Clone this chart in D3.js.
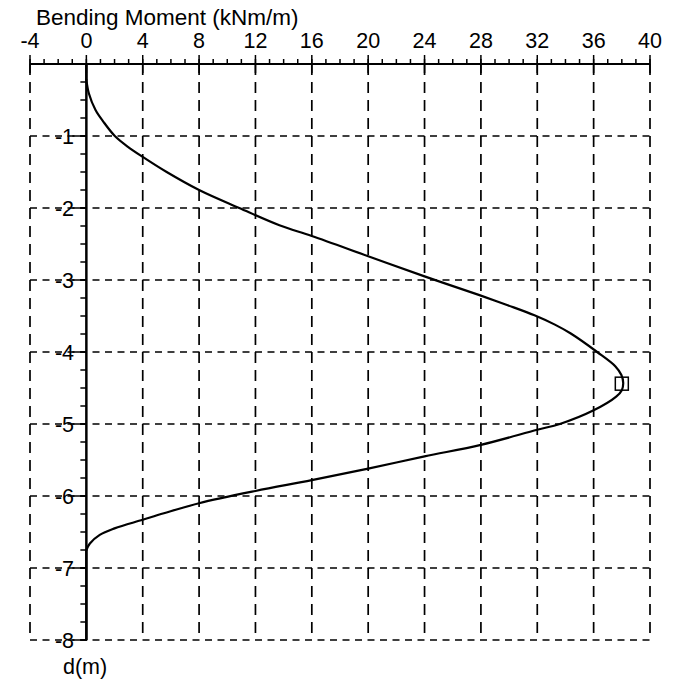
<!DOCTYPE html>
<html>
<head>
<meta charset="utf-8">
<script src="https://cdn.jsdelivr.net/npm/d3@7"></script>
<style>
  html, body { margin: 0; padding: 0; background: #fff; }
  svg { display: block; font-family: "Liberation Sans", Arial, sans-serif; }
</style>
</head>
<body>
<svg id="chart" width="685" height="681"></svg>
<script>
// Bending moment profile along the wall (depth d in m, moment in kNm/m)
const depth  = [0, -0.22, -0.41, -0.64, -0.8, -1.0, -1.15, -1.29, -1.5, -1.75, -2.0, -2.24, -2.39, -2.67,
                -2.95, -3.21, -3.35, -3.49, -3.62, -3.74, -4.0, -4.2, -4.32, -4.43, -4.53, -4.62, -4.81,
                -5.0, -5.08, -5.29, -5.45, -5.62, -5.78, -5.93, -6.1, -6.24, -6.33, -6.45, -6.54, -6.66,
                -6.75, -8.0];
const moment = [0, 0, 0.18, 0.65, 1.2, 2.02, 2.95, 4, 5.7, 8, 10.85, 13.7, 16, 20,
                24, 27.9, 29.9, 31.8, 33.25, 34.35, 36.25, 37.55, 37.97, 38.1, 38.0, 37.6, 36.0,
                33.6, 32, 28, 24, 20, 16, 12, 8, 5.5, 4, 2.0, 0.95, 0.25,
                0, 0];
// Maximum moment marker
const maxPoint = [{ m: 38.0, d: -4.44 }];

const xTicks = [-4, 0, 4, 8, 12, 16, 20, 24, 28, 32, 36, 40];
const xMinor = d3.range(-4, 40.5, 1);
const yTicks = [-1, -2, -3, -4, -5, -6, -7, -8];
const yMinor = d3.range(0, -8.01, -0.25);
const xTitle = "Bending Moment (kNm/m)";
const yTitle = "d(m)";

const svg = d3.select("#chart");
const x = d3.scaleLinear().domain([-4, 40]).range([30, 650]);
const y = d3.scaleLinear().domain([0, -8]).range([64, 640]);

// Dashed grid
const grid = svg.append("g").attr("stroke", "#000").attr("stroke-width", 1.7).attr("fill", "none");
grid.selectAll("line.v").data(xTicks.filter(v => v !== 0)).join("line")
  .attr("class", "v")
  .attr("x1", d => x(d)).attr("x2", d => x(d))
  .attr("y1", y(0)).attr("y2", y(-8))
  .attr("stroke-dasharray", "11,7");
grid.selectAll("line.h").data(yTicks).join("line")
  .attr("class", "h")
  .attr("x1", x(-4)).attr("x2", x(40))
  .attr("y1", d => y(d)).attr("y2", d => y(d))
  .attr("stroke-dasharray", "7,5.5");

// Top moment axis
const momentAxis = svg.append("g").attr("stroke", "#000");
momentAxis.append("line").attr("x1", x(-4)).attr("x2", x(40)).attr("y1", y(0)).attr("y2", y(0)).attr("stroke-width", 2);
momentAxis.selectAll("line.minor").data(xMinor).join("line")
  .attr("class", "minor")
  .attr("x1", d => x(d)).attr("x2", d => x(d))
  .attr("y1", y(0) - 5).attr("y2", y(0)).attr("stroke-width", 1.5);
momentAxis.selectAll("line.major").data(xTicks).join("line")
  .attr("class", "major")
  .attr("x1", d => x(d)).attr("x2", d => x(d))
  .attr("y1", y(0) - 9).attr("y2", y(0) + 9).attr("stroke-width", 1.5);
svg.append("g").selectAll("text").data(xTicks).join("text")
  .attr("x", d => x(d)).attr("y", 48)
  .attr("text-anchor", "middle")
  .attr("font-size", 21.5)
  .text(d => d);
svg.append("text").attr("x", 36).attr("y", 25).attr("font-size", 22.5).text(xTitle);

// Depth axis at zero moment
const depthAxis = svg.append("g").attr("stroke", "#000");
depthAxis.append("line").attr("x1", x(0)).attr("x2", x(0)).attr("y1", y(0)).attr("y2", y(-8)).attr("stroke-width", 2.5);
depthAxis.selectAll("line.minor").data(yMinor).join("line")
  .attr("class", "minor")
  .attr("x1", x(0) - 6).attr("x2", x(0))
  .attr("y1", d => y(d)).attr("y2", d => y(d)).attr("stroke-width", 1.5);
depthAxis.selectAll("line.major").data(yTicks).join("line")
  .attr("class", "major")
  .attr("x1", x(0) - 14).attr("x2", x(0))
  .attr("y1", d => y(d)).attr("y2", d => y(d)).attr("stroke-width", 1.5);
svg.append("g").selectAll("text").data(yTicks).join("text")
  .attr("x", 74).attr("y", d => y(d))
  .attr("dy", "0.36em")
  .attr("text-anchor", "end")
  .attr("font-size", 21.5)
  .text(d => d);
svg.append("text").attr("x", 63).attr("y", 674).attr("font-size", 21.5).text(yTitle);

// Moment curve: smooth between the zero crossings, straight along the axis outside them
const pts = depth.map((d, i) => ({ d, m: moment[i] }));
const first = 1, last = pts.length - 2;
const smooth = d3.line().x(p => x(p.m)).y(p => y(p.d)).curve(d3.curveCatmullRom.alpha(0.5));
const straight = d3.line().x(p => x(p.m)).y(p => y(p.d));
const curveG = svg.append("g").attr("fill", "none").attr("stroke", "#000").attr("stroke-width", 2.2)
  .attr("stroke-linejoin", "round").attr("stroke-linecap", "round");
curveG.append("path").datum(pts.slice(0, first + 1)).attr("d", straight);
curveG.append("path").datum(pts.slice(first, last + 1)).attr("d", smooth);
curveG.append("path").datum(pts.slice(last)).attr("d", straight);

// Max marker
svg.selectAll("rect.mk").data(maxPoint).join("rect")
  .attr("class", "mk")
  .attr("x", p => x(p.m) - 6.5).attr("y", p => y(p.d) - 6.5)
  .attr("width", 13).attr("height", 13)
  .attr("fill", "none").attr("stroke", "#000").attr("stroke-width", 1.5);
</script>
</body>
</html>
